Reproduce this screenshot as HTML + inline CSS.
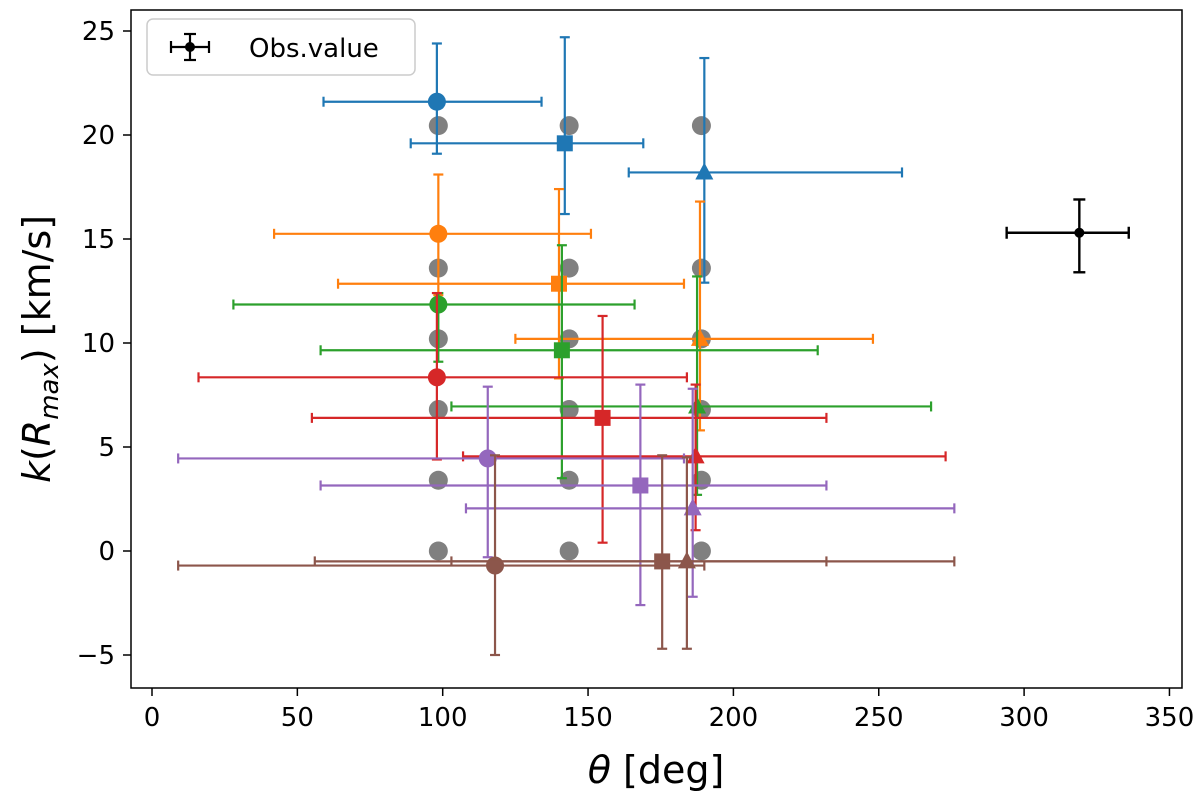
<!DOCTYPE html>
<html><head><meta charset="utf-8"><style>
body{margin:0;background:#fff;}
svg{display:block;font-family:"DejaVu Sans","Liberation Sans",sans-serif;}
</style></head><body>
<svg id="chart" width="1200" height="799">
<rect x="131" y="10" width="1051" height="678" fill="#fff" stroke="#000" stroke-width="1.5"/>
<g id="ticks"></g>
<g id="marks"></g>
<text x="656" y="783" font-size="38" text-anchor="middle"><tspan font-style="italic">θ</tspan> [deg]</text>
<text transform="translate(50,349) rotate(-90)" font-size="38" text-anchor="middle"><tspan font-style="italic">k</tspan>(<tspan font-style="italic">R</tspan><tspan font-style="italic" font-size="26" dy="8">max</tspan><tspan dy="-8">) [km/s]</tspan></text>
<g>
<rect x="147" y="19" width="268" height="56" rx="6" fill="#fff" stroke="#ccc" stroke-width="1.5"/>
<line x1="171" y1="47" x2="209" y2="47" stroke="#000" stroke-width="2.2"/>
<line x1="190" y1="34" x2="190" y2="60" stroke="#000" stroke-width="2.2"/>
<line x1="184" y1="34" x2="196" y2="34" stroke="#000" stroke-width="2.2"/>
<line x1="184" y1="60" x2="196" y2="60" stroke="#000" stroke-width="2.2"/>
<line x1="171" y1="41" x2="171" y2="53" stroke="#000" stroke-width="2.2"/>
<line x1="209" y1="41" x2="209" y2="53" stroke="#000" stroke-width="2.2"/>
<circle cx="190" cy="47" r="5" fill="#000"/>
<text x="249" y="57" font-size="26">Obs.value</text>
</g>
</svg>
<script>
const xTicks=[0,50,100,150,200,250,300,350];
const yTicks=[-5,0,5,10,15,20,25];
const grayX=[98.5,143.5,189];
const grayY=[0,3.4,6.8,10.2,13.6,20.45];
const colors=['#1f77b4','#ff7f0e','#2ca02c','#d62728','#9467bd','#8c564b'];
const shapes=['circle','square','triangle'];
// per series [circle, square, triangle]
const seriesX=[[98,142,190],[98.5,140,188.5],[98.5,141,187.5],[98,155,187],[115.5,168,186],[118,175.5,184]];
const seriesY=[[21.6,19.6,18.2],[15.25,12.85,10.2],[11.85,9.65,6.95],[8.35,6.4,4.55],[4.45,3.15,2.05],[-0.7,-0.5,-0.5]];
const xLow=[[59,89,164],[42,64,125],[28,58,103],[16,55,107],[9,58,108],[9,56,103]];
const xHigh=[[134,169,258],[151,183,248],[166,229,268],[184,232,273],[183,232,276],[190,276,232]];
const yLow=[[19.1,16.2,12.9],[12.3,8.3,5.8],[9.1,3.5,2.7],[4.4,0.4,1.0],[-0.3,-2.6,-2.2],[-5.0,-4.7,-4.7]];
const yHigh=[[24.4,24.7,23.7],[18.1,17.4,16.8],[12.4,14.7,13.2],[12.4,11.3,8.0],[7.9,8.0,7.8],[4.6,4.6,4.5]];
const obsX=[319],obsY=[15.3],obsXL=[294],obsXH=[336],obsYL=[13.4],obsYH=[16.9];
const sx=v=>152+v*2.907;
const sy=v=>551-v*20.8;
const NS='http://www.w3.org/2000/svg';
function mk(tag,attrs,parent){const e=document.createElementNS(NS,tag);for(const k in attrs)e.setAttribute(k,attrs[k]);parent.appendChild(e);return e;}
const T=document.getElementById('ticks'),M=document.getElementById('marks');
xTicks.forEach(t=>{
 const l=mk('line',{x1:sx(t),x2:sx(t),y1:688,y2:696,stroke:'#000','stroke-width':1.5},T);
 
 
 const s=mk('text',{x:sx(t),y:726,'font-size':26,'text-anchor':'middle'},T);s.textContent=t;
 
 
});
yTicks.forEach(t=>{
 const l=mk('line',{x1:123,x2:131,y1:sy(t),y2:sy(t),stroke:'#000','stroke-width':1.5},T);
 
 
 const s=mk('text',{x:115,y:sy(t)+9,'font-size':26,'text-anchor':'end'},T);s.textContent=t<0?'−'+(-t):t;
 
 
});
grayX.forEach(x=>grayY.forEach(y=>{
 const c=mk('circle',{cx:sx(x),cy:sy(y),r:9.5,fill:'#808080'},M);
 
 
}));
function errbar(x,y,xl,xh,yl,yh,col,w,cap){
 const g=mk('g',{stroke:col,'stroke-width':w},M);
 
 
 mk('line',{x1:sx(xl),x2:sx(xh),y1:sy(y),y2:sy(y)},g);
 mk('line',{x1:sx(x),x2:sx(x),y1:sy(yl),y2:sy(yh)},g);
 mk('line',{x1:sx(xl),x2:sx(xl),y1:sy(y)-cap,y2:sy(y)+cap},g);
 mk('line',{x1:sx(xh),x2:sx(xh),y1:sy(y)-cap,y2:sy(y)+cap},g);
 mk('line',{x1:sx(x)-cap,x2:sx(x)+cap,y1:sy(yl),y2:sy(yl)},g);
 mk('line',{x1:sx(x)-cap,x2:sx(x)+cap,y1:sy(yh),y2:sy(yh)},g);
}
seriesX.forEach((row,i)=>row.forEach((x,j)=>{
 const y=seriesY[i][j],col=colors[i];
 errbar(x,y,xLow[i][j],xHigh[i][j],yLow[i][j],yHigh[i][j],col,2.2,5);
 const cx=sx(x),cy=sy(y);let m;
 if(shapes[j]==='circle')m=mk('circle',{cx:cx,cy:cy,r:9,fill:col},M);
 else if(shapes[j]==='square')m=mk('rect',{x:cx-8,y:cy-8,width:16,height:16,fill:col},M);
 else m=mk('polygon',{points:`${cx},${cy-10} ${cx+9},${cy+7} ${cx-9},${cy+7}`,fill:col},M);
 
 
}));
errbar(obsX[0],obsY[0],obsXL[0],obsXH[0],obsYL[0],obsYH[0],'#000',2.4,6);
const o=mk('circle',{cx:sx(obsX[0]),cy:sy(obsY[0]),r:5,fill:'#000'},M);


</script>
</body></html>
